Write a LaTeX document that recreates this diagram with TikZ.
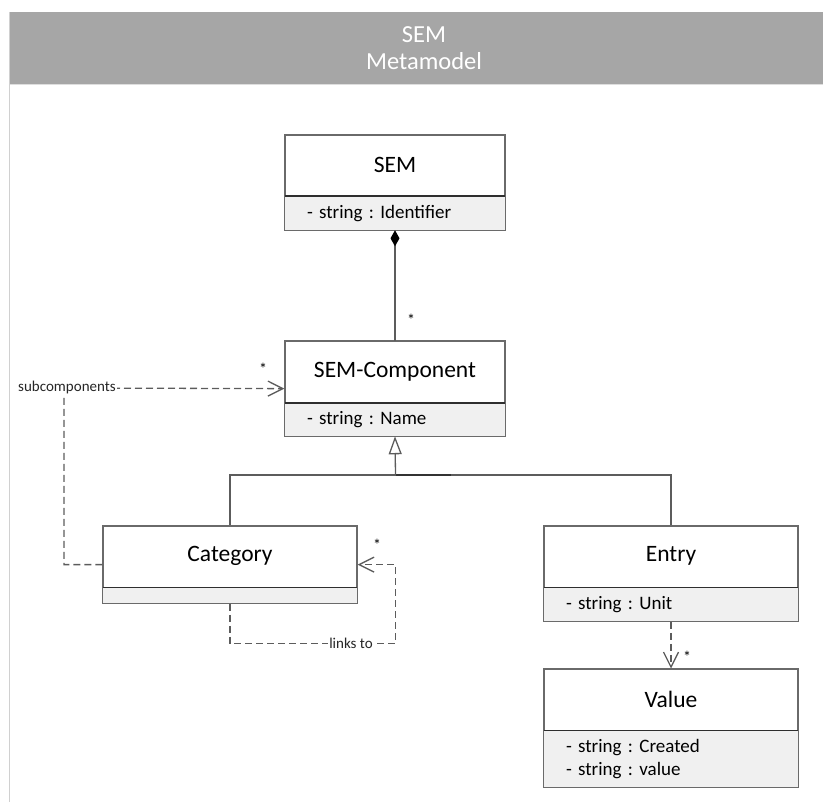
\documentclass[tikz,border=0pt]{standalone}
\usepackage{fontspec}
\setmainfont{Carlito}
\usetikzlibrary{arrows.meta}

\definecolor{headgray}{HTML}{A6A6A6}
\definecolor{framegray}{HTML}{D0D0D0}
\definecolor{boxline}{HTML}{6A6A6A}
\definecolor{divline}{HTML}{2E2E2E}
\definecolor{attrfill}{HTML}{F0F0F0}
\definecolor{connline}{HTML}{5C5C5C}

\tikzset{
  classbox/.style={draw=boxline, line width=1.3pt, inner sep=0pt, fill=white},
  titlepart/.style={inner sep=0pt, font=\fontsize{23.5}{27}\selectfont},
  attrpart/.style={fill=attrfill, inner xsep=22pt, inner ysep=0pt, align=left,
                   font=\fontsize{19}{22.5}\selectfont},
  conn/.style={draw=connline, line width=1.3pt},
  dashconn/.style={conn, dash pattern=on 7pt off 4pt,
                   -{Straight Barb[length=15pt, width=15pt, line width=1.3pt]}},
  mult/.style={inner sep=0pt, font=\fontsize{16}{18}\selectfont},
  linklabel/.style={fill=white, inner sep=1.5pt, font=\fontsize{15}{17}\selectfont, text=black!85},
  headtext/.style={text=white, inner sep=0pt, font=\fontsize{24.5}{28}\selectfont}
}

% one class: outline node, title compartment, attribute compartment, divider
\newcommand{\umlclass}[9]{%
  % #1 name, #2 centre x, #3 top y, #4 width, #5 title height, #6 attribute height,
  % #7 title, #8 attributes, #9 attribute text width
  \node[classbox, minimum width=#4pt, minimum height=#5pt+#6pt, anchor=north]
     (#1) at (#2,#3) {};
  \node[attrpart, minimum width=#4pt, minimum height=#6pt, text width=#9pt, anchor=south]
     (#1A) at (#1.south) {#8};
  \node[titlepart, minimum width=#4pt, minimum height=#5pt, anchor=north]
     (#1T) at (#1.north) {#7};
  \draw[boxline, line width=1.3pt] (#1.north west) rectangle (#1.south east);
  \draw[divline, line width=1.3pt] (#1A.north west) -- (#1A.north east);
}

\begin{document}
\frenchspacing
\begin{tikzpicture}[x=1pt, y=-1pt]
\useasboundingbox (0,0) rectangle (823,802);

% frame and title band
\draw[framegray, line width=1.2pt] (9.5,12) -- (9.5,802);
\fill[headgray] (10,12) rectangle (823,84);
\draw[framegray!70, line width=1pt] (10,85) -- (823,85);
\node[headtext] (htitle) at (424,35) {SEM};
\node[headtext] (hsub) at (424,61) {Metamodel};

% classes
\umlclass{sem}{395}{135}{220}{60}{34}{SEM}{- string : Identifier}{176}
\umlclass{semc}{395}{341}{220}{61}{33}{SEM-Component}{- string : Name}{176}
\umlclass{cat}{230}{525.5}{254}{61}{16}{Category}{}{210}
\umlclass{ent}{671}{525.5}{254}{61}{34}{Entry}{- string : Unit}{210}
\umlclass{val}{671}{668.5}{254}{61}{57}{Value}{- string : Created\\- string : value}{210}

% composition SEM <>-- SEM-Component
\draw[conn, {Diamond[length=16pt, width=9pt, fill=black, color=black]}-] (sem.south) -- (semc.north);
\node[mult] (m1) at (411,320) {*};

% generalisation of Category and Entry
\coordinate (gen) at (395.5,475);
\draw[conn] (cat.north) |- (gen) -| (ent.north);
\draw[conn, line width=1.8pt, draw=black!80] (gen) -- ++(55,0);
\draw[conn, -{Triangle[open, length=18pt, width=13pt, line width=1.3pt, fill=white]}]
  (gen) -- (semc.south);

% subcomponents
\coordinate (subc) at (64,388);
\draw[dashconn] (cat.west) -| (subc) -- (semc.west);
\node[linklabel] (lsub) at (67,388) {subcomponents};
\node[mult] (m2) at (263,369) {*};

% links to
\coordinate (lnk) at (395.5,643.5);
\draw[dashconn] (catA.south) |- (lnk) |- (cat.east);
\node[linklabel] (llnk) at (351,643.5) {links to};
\node[mult] (m3) at (377,545) {*};

% Entry to Value
\draw[dashconn] (ent.south) -- (val.north);
\node[mult] (m4) at (687,657) {*};
\end{tikzpicture}
\end{document}
